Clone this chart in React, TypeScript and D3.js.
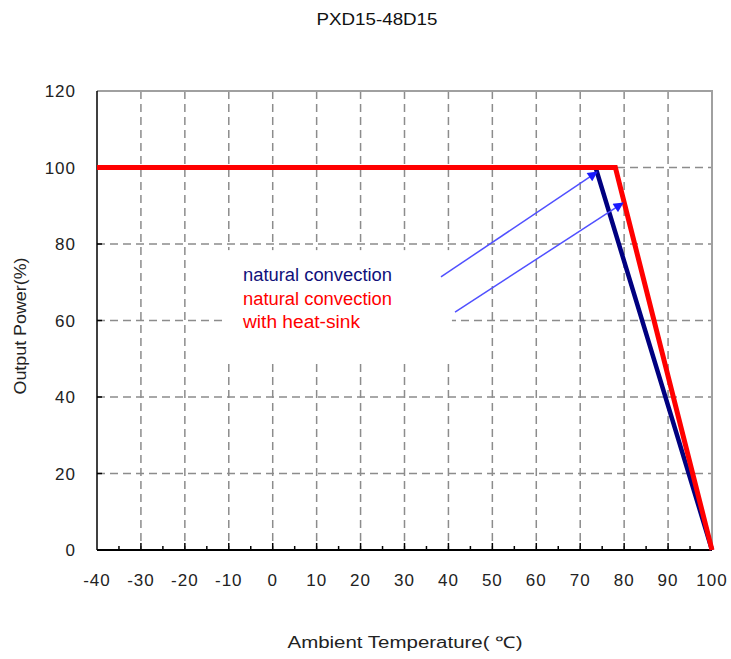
import React, { useEffect, useRef } from 'react';
import * as d3 from 'd3';

const W = 731;
const H = 659;

const xTicks = [-40, -30, -20, -10, 0, 10, 20, 30, 40, 50, 60, 70, 80, 90, 100];
const xMinor = [-35, -25, -15, -5, 5, 15, 25, 35, 45, 55, 65, 75, 85, 95];
const yTicks = [0, 20, 40, 60, 80, 100, 120];

// derating curves (temperature °C, output power %)
const naturalConv = [
  { t: -40, p: 100 },
  { t: 73.5, p: 100 },
  { t: 100, p: 0 },
];
const heatSink = [
  { t: -40, p: 100 },
  { t: 78, p: 100 },
  { t: 100, p: 0 },
];

// pointer arrows, in data units
const arrows = [
  { x1: 38.3, y1: 71.4, x2: 73.8, y2: 98.8 },
  { x1: 41.5, y1: 62.2, x2: 79.7, y2: 90.7 },
];

const legendLines = [
  { text: 'natural convection', color: '#10107a', len: 149 },
  { text: 'natural convection', color: '#ff0000', len: 149 },
  { text: 'with heat-sink', color: '#ff0000', len: 117 },
];

export default function App() {
  const ref = useRef<SVGSVGElement>(null);

  useEffect(() => {
    if (!ref.current) return;
    const svg = d3.select(ref.current);
    svg.selectAll('*').remove();

    const margin = { top: 91, right: 19, bottom: 109, left: 97 };
    const x = d3.scaleLinear().domain([-40, 100]).range([margin.left, W - margin.right]);
    const y = d3.scaleLinear().domain([0, 120]).range([H - margin.bottom, margin.top]);
    const font = "'Liberation Sans', Arial, sans-serif";

    svg.append('rect').attr('width', W).attr('height', H).attr('fill', '#fff');

    const defs = svg.append('defs');
    defs.append('marker')
      .attr('id', 'arrowhead')
      .attr('viewBox', '0 0 10 10')
      .attr('refX', 9).attr('refY', 5)
      .attr('markerWidth', 12).attr('markerHeight', 10)
      .attr('markerUnits', 'userSpaceOnUse')
      .attr('orient', 'auto')
      .append('path')
      .attr('d', 'M0,0 L10,5 L0,10 Z')
      .attr('fill', '#1a1aff');

    // grid
    const grid = svg.append('g')
      .attr('stroke', '#8c8c8c')
      .attr('stroke-width', 1.5)
      .attr('stroke-dasharray', '8,5');
    grid.selectAll('.vg')
      .data(xTicks.slice(1, -1))
      .join('line')
      .attr('x1', (d) => x(d)).attr('x2', (d) => x(d))
      .attr('y1', y(120)).attr('y2', y(0));
    grid.selectAll('.hg')
      .data(yTicks.slice(1, -1))
      .join('line')
      .attr('x1', x(-40)).attr('x2', x(100))
      .attr('y1', (d) => y(d)).attr('y2', (d) => y(d));

    // white legend backing
    svg.append('rect')
      .attr('x', x(-11.5)).attr('y', y(78.4))
      .attr('width', x(40.8) - x(-11.5))
      .attr('height', y(49.2) - y(78.4))
      .attr('fill', '#fff');

    // frame: top & right gray
    svg.append('path')
      .attr('d', `M${x(-40)},${y(120)}H${x(100)}V${y(0)}`)
      .attr('fill', 'none')
      .attr('stroke', '#a0a0a0')
      .attr('stroke-width', 2);

    // axes
    svg.append('line')
      .attr('x1', x(-40)).attr('x2', x(-40))
      .attr('y1', y(120)).attr('y2', y(0))
      .attr('stroke', '#000').attr('stroke-width', 1.5);
    svg.append('line')
      .attr('x1', x(-40)).attr('x2', x(100))
      .attr('y1', y(0)).attr('y2', y(0))
      .attr('stroke', '#000').attr('stroke-width', 2);

    svg.selectAll('.xt')
      .data(xTicks.slice(1, -1))
      .join('line')
      .attr('x1', (d) => x(d)).attr('x2', (d) => x(d))
      .attr('y1', y(0)).attr('y2', y(0) - 7)
      .attr('stroke', '#000').attr('stroke-width', 1.5);
    svg.selectAll('.xm')
      .data(xMinor)
      .join('line')
      .attr('x1', (d) => x(d)).attr('x2', (d) => x(d))
      .attr('y1', y(0)).attr('y2', y(0) - 4)
      .attr('stroke', '#000').attr('stroke-width', 1.5);
    svg.selectAll('.yt')
      .data(yTicks.slice(1, -1))
      .join('line')
      .attr('x1', x(-40)).attr('x2', x(-40) + 5)
      .attr('y1', (d) => y(d)).attr('y2', (d) => y(d))
      .attr('stroke', '#000').attr('stroke-width', 1.5);

    // tick labels
    svg.selectAll('.xl')
      .data(xTicks)
      .join('text')
      .attr('x', (d) => x(d))
      .attr('y', y(0) + 36)
      .attr('text-anchor', 'middle')
      .attr('font-family', font)
      .attr('font-size', '17px')
      .attr('letter-spacing', '1px')
      .attr('fill', '#222')
      .text((d) => String(d));
    svg.selectAll('.yl')
      .data(yTicks)
      .join('text')
      .attr('x', 76)
      .attr('y', (d) => y(d))
      .attr('dy', '0.36em')
      .attr('text-anchor', 'end')
      .attr('font-family', font)
      .attr('font-size', '17px')
      .attr('letter-spacing', '1px')
      .attr('fill', '#222')
      .text((d) => String(d));

    // curves
    const line = d3.line<{ t: number; p: number }>()
      .x((d) => x(d.t))
      .y((d) => y(d.p));
    svg.append('path')
      .attr('d', line(naturalConv))
      .attr('fill', 'none')
      .attr('stroke', '#000080')
      .attr('stroke-width', 4.5);
    svg.append('path')
      .attr('d', line(heatSink))
      .attr('fill', 'none')
      .attr('stroke', '#ff0000')
      .attr('stroke-width', 5);

    // arrows
    svg.selectAll('.arr')
      .data(arrows)
      .join('line')
      .attr('x1', (d) => x(d.x1)).attr('y1', (d) => y(d.y1))
      .attr('x2', (d) => x(d.x2)).attr('y2', (d) => y(d.y2))
      .attr('stroke', '#5050ff')
      .attr('stroke-width', 1.5)
      .attr('marker-end', 'url(#arrowhead)');

    // legend text
    svg.selectAll('.lg')
      .data(legendLines)
      .join('text')
      .attr('x', 243)
      .attr('y', (_, i) => 281 + i * 23.5)
      .attr('font-family', font)
      .attr('font-size', '18px')
      .attr('fill', (d) => d.color)
      .attr('textLength', (d) => d.len)
      .attr('lengthAdjust', 'spacingAndGlyphs')
      .text((d) => d.text);

    // titles
    svg.append('text')
      .attr('x', 377).attr('y', 25)
      .attr('text-anchor', 'middle')
      .attr('font-family', font)
      .attr('font-size', '17px')
      .attr('fill', '#111')
      .attr('textLength', 121)
      .attr('lengthAdjust', 'spacingAndGlyphs')
      .text('PXD15-48D15');
    svg.append('text')
      .attr('x', 405).attr('y', 648)
      .attr('text-anchor', 'middle')
      .attr('font-family', font)
      .attr('font-size', '16px')
      .attr('fill', '#222')
      .attr('textLength', 235)
      .attr('lengthAdjust', 'spacingAndGlyphs')
      .text('Ambient Temperature( ℃)');
    svg.append('text')
      .attr('transform', `translate(26,326) rotate(-90)`)
      .attr('text-anchor', 'middle')
      .attr('font-family', font)
      .attr('font-size', '16px')
      .attr('fill', '#222')
      .attr('textLength', 137)
      .attr('lengthAdjust', 'spacingAndGlyphs')
      .text('Output Power(%)');
  }, []);

  return (
    <svg
      ref={ref}
      width={W}
      height={H}
      style={{ position: 'absolute', left: 0, top: 0, display: 'block' }}
    />
  );
}
